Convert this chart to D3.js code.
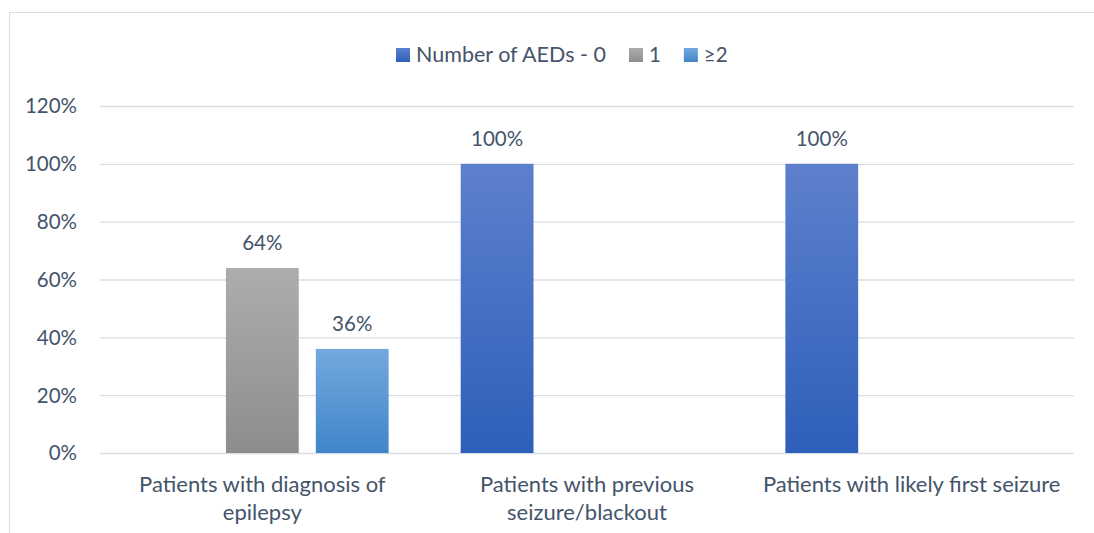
<!DOCTYPE html>
<html>
<head>
<meta charset="utf-8">
<script src="https://cdnjs.cloudflare.com/ajax/libs/d3/7.8.5/d3.min.js"></script>
<style>
  html, body { margin: 0; padding: 0; background: #fff; }
  svg { display: block; }
  text { font-family: Lato, "Open Sans", sans-serif; fill: #44546a; }
</style>
</head>
<body>
<svg id="chart" width="1094" height="533"></svg>
<script>
// Share of patients by number of anti-epileptic drugs, per patient group
const categories = [
  "Patients with diagnosis of epilepsy",
  "Patients with previous seizure/blackout",
  "Patients with likely first seizure"
];
const categoryLines = [
  ["Patients with diagnosis of", "epilepsy"],
  ["Patients with previous", "seizure/blackout"],
  ["Patients with likely first seizure"]
];
const seriesNames = ["0", "1", "\u22652"];
const legendLabels = ["Number of AEDs - 0", "1", "\u22652"];
const aed0 = [null, 1.00, 1.00];
const aed1 = [0.64, null, null];
const aed2 = [0.36, null, null];
const yTicks = [0, 0.2, 0.4, 0.6, 0.8, 1.0, 1.2];

const seriesValues = [aed0, aed1, aed2];
const gradients = [
  ["#5d80cc", "#2e5fba"],
  ["#adadad", "#8d8d8d"],
  ["#75a9de", "#3f86c9"]
];
const numFont = 20.5;
const wordFont = 22;
const legendFont = 21.5;

const svg = d3.select("#chart");

// outer frame of the chart area
svg.append("rect")
  .attr("x", 9.5).attr("y", 12.5)
  .attr("width", 1200).attr("height", 600)
  .attr("fill", "none").attr("stroke", "#d9dee5").attr("stroke-width", 1);

const plot = { left: 100, right: 1074, top: 106, bottom: 453 };

const y = d3.scaleLinear().domain([0, 1.2]).range([plot.bottom, plot.top]);
const x0 = d3.scaleBand().domain(categories).range([plot.left, plot.right]).padding(0);
const bw = x0.bandwidth();
const x1 = d3.scaleBand().domain(seriesNames)
  .range([bw * 0.111, bw * 0.889]).paddingInner(0.19).paddingOuter(0);

// gradient fills
const defs = svg.append("defs");
gradients.forEach((g, i) => {
  const lg = defs.append("linearGradient").attr("id", "grad" + i)
    .attr("x1", 0).attr("y1", 0).attr("x2", 0).attr("y2", 1);
  lg.append("stop").attr("offset", "0%").attr("stop-color", g[0]);
  lg.append("stop").attr("offset", "100%").attr("stop-color", g[1]);
});

// horizontal gridlines + y labels
const yAxis = d3.axisLeft(y).tickValues(yTicks).tickFormat(d3.format(".0%"))
  .tickSize(-(plot.right - plot.left)).tickPadding(23);
const gy = svg.append("g").attr("transform", `translate(${plot.left},0)`).call(yAxis);
gy.select(".domain").remove();
gy.selectAll(".tick line").attr("stroke", "#d9dee5").attr("stroke-width", 1.4);
gy.selectAll(".tick text")
  .attr("font-size", numFont).attr("dy", "0.34em").attr("fill", "#44546a")
  .style("font-family", "Lato, 'Open Sans', sans-serif");

// bars
const groups = svg.append("g").selectAll("g")
  .data(categories).join("g")
  .attr("transform", d => `translate(${x0(d)},0)`);

const barData = (c, ci) => seriesNames.map((s, si) => ({ s, si, v: seriesValues[si][ci] }))
  .filter(d => d.v !== null);

groups.each(function(c, ci) {
  const g = d3.select(this);
  const bd = barData(c, ci);
  g.selectAll("rect").data(bd).join("rect")
    .attr("x", d => x1(d.s))
    .attr("width", x1.bandwidth())
    .attr("y", d => y(d.v))
    .attr("height", d => y(0) - y(d.v))
    .attr("fill", d => `url(#grad${d.si})`);
  g.selectAll("text.val").data(bd).join("text")
    .attr("class", "val")
    .attr("x", d => x1(d.s) + x1.bandwidth() / 2)
    .attr("y", d => y(d.v) - 18)
    .attr("text-anchor", "middle")
    .attr("font-size", numFont)
    .text(d => d3.format(".0%")(d.v));
});

// category labels
categories.forEach((c, ci) => {
  const t = svg.append("text")
    .attr("text-anchor", "middle")
    .attr("font-size", wordFont)
    .attr("x", x0(c) + bw / 2)
    .attr("y", 492);
  categoryLines[ci].forEach((line, li) => {
    t.append("tspan").attr("x", x0(c) + bw / 2).attr("dy", li === 0 ? 0 : 28).text(line);
  });
});

// legend
const legend = svg.append("g");
let lx = 396;
legendLabels.forEach((lab, i) => {
  legend.append("rect")
    .attr("x", lx).attr("y", 48).attr("width", 14).attr("height", 14)
    .attr("fill", `url(#grad${i})`);
  const t = legend.append("text")
    .attr("x", lx + 20).attr("y", 62)
    .attr("font-size", i === 0 ? legendFont : numFont).text(lab);
  lx += 20 + t.node().getComputedTextLength() + 23;
});
</script>
</body>
</html>
